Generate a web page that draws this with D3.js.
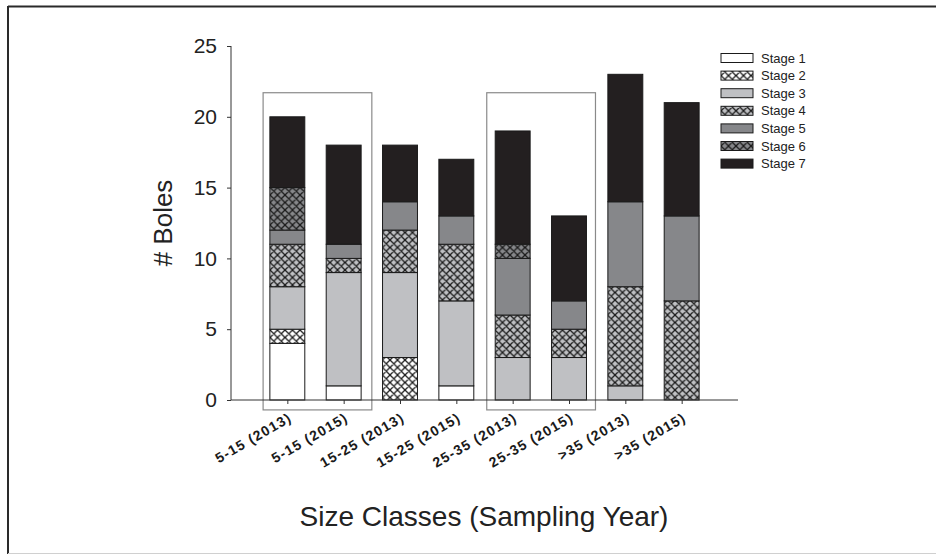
<!DOCTYPE html>
<html><head><meta charset="utf-8">
<script src="https://cdn.jsdelivr.net/npm/d3@7"></script>
<style>body{margin:0;background:#fff}svg{display:block;font-family:"Liberation Sans",Arial,sans-serif}</style>
</head><body><svg id="c" width="936" height="555"></svg>
<script>
const categories = ["5-15 (2013)","5-15 (2015)","15-25 (2013)","15-25 (2015)","25-35 (2013)","25-35 (2015)",">35 (2013)",">35 (2015)"];
const stages = ["Stage 1","Stage 2","Stage 3","Stage 4","Stage 5","Stage 6","Stage 7"];
const stage1 = [4,1,0,1,0,0,0,0];
const stage2 = [1,0,3,0,0,0,0,0];
const stage3 = [3,8,6,6,3,3,1,0];
const stage4 = [3,1,3,4,3,2,7,7];
const stage5 = [1,1,2,2,4,2,6,6];
const stage6 = [3,0,0,0,1,0,0,0];
const stage7 = [5,7,4,4,8,6,9,8];
const yTicks = [0,5,10,15,20,25];
const highlightBoxes = [[0.57,2.5],[4.54,6.47]];

const svg = d3.select("#c");
// outer frame
svg.append("line").attr("x1",8).attr("x2",936).attr("y1",6.5).attr("y2",6.5).attr("stroke","#2a2a2a").attr("stroke-width",2);
svg.append("line").attr("x1",8).attr("x2",8).attr("y1",6).attr("y2",554).attr("stroke","#2a2a2a").attr("stroke-width",2);
svg.append("line").attr("x1",8).attr("x2",936).attr("y1",553.5).attr("y2",553.5).attr("stroke","#d0d0d0").attr("stroke-width",1);

const defs = svg.append("defs");
function hatch(id, bg){
  const p = defs.append("pattern").attr("id",id).attr("patternUnits","userSpaceOnUse").attr("width",7.5).attr("height",7.5);
  p.append("rect").attr("width",7.5).attr("height",7.5).attr("fill",bg);
  p.append("path").attr("d","M0,0L7.5,7.5M7.5,0L0,7.5M-1,6.5L1,8.5M6.5,-1L8.5,1").attr("stroke","#1a1a1a").attr("stroke-width",1.3);
  return "url(#"+id+")";
}
const fills = ["#ffffff", hatch("h2","#ffffff"), "#bfc0c3", hatch("h4","#bfc0c3"), "#86878a", hatch("h6","#86878a"), "#231f20"];

const x = d3.scaleLinear().domain([0,9]).range([231,738]);
const y = d3.scaleLinear().domain([0,25]).range([400,46]);
const barW = 0.62;

const series = [stage1,stage2,stage3,stage4,stage5,stage6,stage7];
const rows = categories.map((c,i)=>{const o={cat:c,idx:i+1}; stages.forEach((s,k)=>o[s]=series[k][i]); return o;});
const stacked = d3.stack().keys(stages)(rows);

// highlight boxes
svg.selectAll(".hb").data(highlightBoxes).enter().append("rect")
  .attr("x",d=>x(d[0])).attr("width",d=>x(d[1])-x(d[0]))
  .attr("y",y(21.7)).attr("height",y(-0.7)-y(21.7))
  .attr("fill","none").attr("stroke","#8a8a8a").attr("stroke-width",1.2);

stacked.forEach((layer,k)=>{
  svg.append("g").selectAll("rect").data(layer.filter(d=>d[1]>d[0])).enter().append("rect")
    .attr("x",d=>x(d.data.idx-barW/2)).attr("width",x(barW)-x(0))
    .attr("y",d=>y(d[1])).attr("height",d=>y(d[0])-y(d[1]))
    .attr("fill",fills[k]).attr("stroke","#1a1a1a").attr("stroke-width",1);
});

// axes
const yAxis = d3.axisLeft(y).tickValues(yTicks).tickSize(4).tickPadding(10);
const gy = svg.append("g").attr("transform","translate(231,0)").call(yAxis);
gy.select(".domain").attr("stroke","#333").attr("d","M0,400V46");
gy.selectAll("text").attr("font-size",21).attr("fill","#222").attr("font-family","Liberation Sans, Arial");
gy.selectAll(".tick line").attr("stroke","#333");

const xAxis = d3.axisBottom(x).tickValues(d3.range(1,9)).tickSize(4).tickFormat(d=>categories[d-1]);
const gx = svg.append("g").attr("transform","translate(0,400)").call(xAxis);
gx.select(".domain").attr("stroke","#333").attr("d","M231,0H738");
gx.selectAll(".tick line").attr("stroke","#333");
gx.selectAll("text").attr("font-size",14).attr("fill","#1a1a1a").attr("font-weight","bold")
  .attr("letter-spacing","1.2px").attr("text-anchor","end")
  .attr("transform","translate(0,12) rotate(-30)").attr("dy","0.71em").attr("y",0);

svg.append("text").attr("transform","translate(163,223) rotate(-90)").attr("text-anchor","middle")
  .attr("font-size",26).attr("fill","#222").attr("dy","0.35em").text("# Boles");
svg.append("text").attr("x",484).attr("y",526).attr("text-anchor","middle")
  .attr("font-size",28).attr("fill","#222").text("Size Classes (Sampling Year)");

// legend
const lg = svg.append("g").attr("transform","translate(721,58)");
stages.forEach((s,k)=>{
  const g = lg.append("g").attr("transform",`translate(0,${k*17.6})`);
  g.append("rect").attr("x",0).attr("y",-4.5).attr("width",32).attr("height",9).attr("fill",fills[k]).attr("stroke","#1a1a1a").attr("stroke-width",1);
  g.append("text").attr("x",40).attr("y",0).attr("dy","0.35em").attr("font-size",13).attr("fill","#222").text(s);
});
</script></body></html>
